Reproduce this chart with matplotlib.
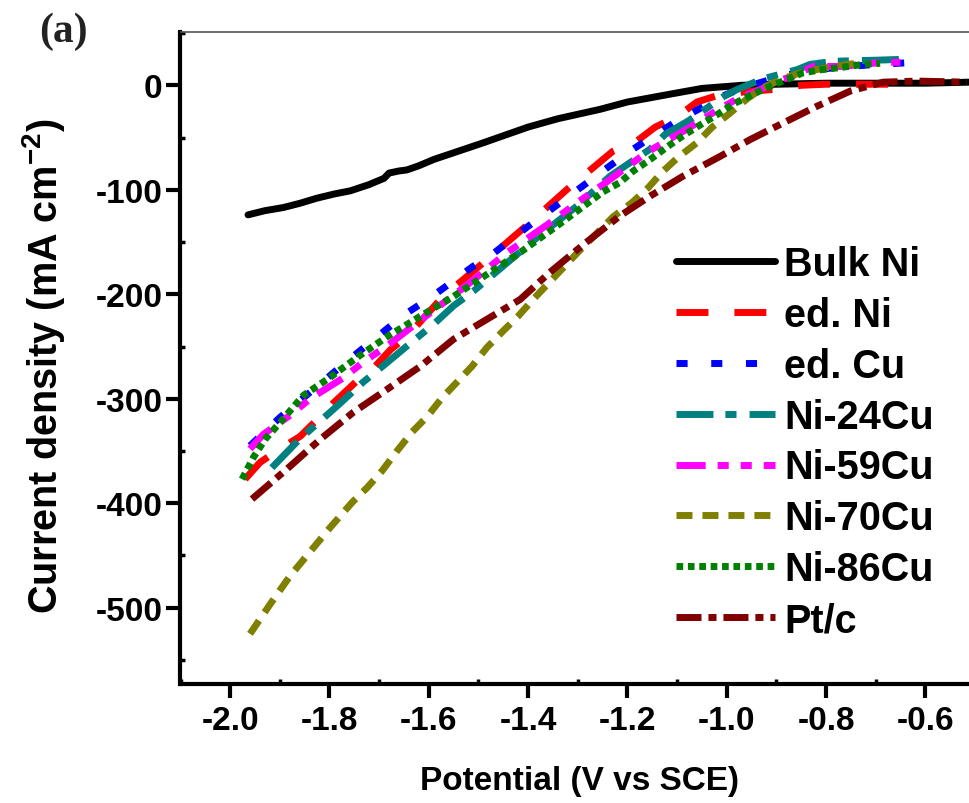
import matplotlib
matplotlib.use('Agg')
import matplotlib.pyplot as plt
from matplotlib.ticker import MultipleLocator

plt.rcParams['font.family'] = ['Liberation Sans', 'DejaVu Sans']
plt.rcParams['font.weight'] = 'bold'
plt.rcParams['mathtext.fontset'] = 'custom'
plt.rcParams['mathtext.rm'] = 'Liberation Sans:bold'
plt.rcParams['mathtext.bf'] = 'Liberation Sans:bold'
plt.rcParams['mathtext.default'] = 'rm'
plt.rcParams['lines.scale_dashes'] = False

# ---------------- data (potential V vs SCE, current density mA cm^-2) ----------------
labels = ["Bulk Ni", "ed. Ni", "ed. Cu", "Ni-24Cu", "Ni-59Cu", "Ni-70Cu", "Ni-86Cu", "Pt/c"]

bulk_ni_x = [-1.964, -1.93, -1.893, -1.86, -1.825, -1.79, -1.758, -1.72, -1.69, -1.68, -1.66,
             -1.644, -1.62, -1.59, -1.54, -1.49, -1.40, -1.34, -1.255, -1.20, -1.12, -1.05,
             -0.97, -0.90, -0.80, -0.70, -0.60, -0.51]
bulk_ni_y = [-124, -120, -117, -113, -108, -104, -101, -95, -89, -84, -82,
             -81, -77, -71, -63, -55, -40, -32, -23, -16, -9, -3,
             0, 1, 2, 2, 2, 3]

ed_ni_x = [-1.97, -1.94, -1.90, -1.859, -1.825, -1.792, -1.738, -1.71, -1.677, -1.643, -1.571,
           -1.483, -1.40, -1.32, -1.229, -1.18, -1.144, -1.098, -1.06, -1.02, -0.96, -0.906,
           -0.85, -0.80, -0.75, -0.70, -0.65]
ed_ni_y = [-377, -361, -348, -336, -320, -304, -280, -270, -253, -240, -202,
           -167, -133, -99, -63, -53, -40, -29.5, -16, -10, -6, -4,
           0, 1, 1, 1, 1]

ed_cu_x = [-1.96, -1.90, -1.86, -1.819, -1.772, -1.728, -1.684, -1.641, -1.593, -1.547, -1.513,
           -1.47, -1.40, -1.32, -1.235, -1.188, -1.156, -1.106, -1.057, -1.007, -0.959, -0.90,
           -0.852, -0.78, -0.70, -0.614]
ed_cu_y = [-345, -318, -302, -286, -267, -250, -233, -217, -202, -186, -174,
           -161, -135, -107, -77, -61, -51, -36, -23, -10, -1, 7,
           13, 17, 20, 22]

ni24_x = [-1.916, -1.863, -1.825, -1.78, -1.732, -1.688, -1.64, -1.591, -1.55, -1.51, -1.45,
          -1.38, -1.30, -1.235, -1.154, -1.124, -1.077, -1.007, -0.979, -0.928, -0.858, -0.832,
          -0.785, -0.70, -0.636]
ni24_y = [-366, -340, -324, -305, -284, -267, -248, -229, -211, -197, -173,
          -145, -115, -87, -61, -47, -34, -11, -4, 6, 15, 20,
          23, 24, 25]

ni59_x = [-1.96, -1.933, -1.88, -1.839, -1.772, -1.732, -1.68, -1.631, -1.517, -1.442, -1.36,
          -1.30, -1.249, -1.16, -1.128, -1.08, -1.03, -0.979, -0.932, -0.898, -0.866, -0.826,
          -0.771, -0.685, -0.65]
ni59_y = [-348, -334, -316, -300, -280, -265, -248, -230, -189, -160, -133,
          -112, -95, -64, -55, -42, -27, -13, -4, 4, 9, 18,
          18, 22, 22]

ni70_x = [-1.96, -1.92, -1.88, -1.84, -1.80, -1.754, -1.724, -1.694, -1.664, -1.634, -1.603,
          -1.573, -1.543, -1.513, -1.483, -1.45, -1.42, -1.39, -1.36, -1.30, -1.229, -1.19,
          -1.158, -1.13, -1.098, -1.06, -1.029, -0.997, -0.959, -0.926, -0.888, -0.852, -0.785,
          -0.725]
ni70_y = [-525, -497, -470, -447, -424, -399, -385, -369, -350, -332, -317,
          -299, -284, -269, -251, -235, -221, -205, -190, -160, -126, -112,
          -98, -83, -69, -55, -40, -28, -13, -2, 6, 12, 18,
          22]

ni86_x = [-1.976, -1.953, -1.93, -1.90, -1.853, -1.80, -1.74, -1.685, -1.617, -1.55, -1.483,
          -1.416, -1.34, -1.249, -1.215, -1.188, -1.154, -1.12, -1.09, -1.057, -1.019, -0.987,
          -0.953, -0.918, -0.882, -0.846, -0.808, -0.771, -0.725, -0.691]
ni86_y = [-377, -356, -339, -323, -297, -280, -259, -241, -221, -202, -181,
          -160, -134, -102, -93, -82, -71, -59, -49, -39, -28, -18,
          -10, -2, 5, 12, 15, 17, 20, 21]

ptc_x = [-1.956, -1.885, -1.819, -1.752, -1.684, -1.617, -1.55, -1.483, -1.416, -1.356, -1.29,
         -1.215, -1.154, -1.088, -1.013, -0.953, -0.886, -0.818, -0.751, -0.685, -0.616, -0.516]
ptc_y = [-396, -367, -339, -313, -291, -269, -243, -224, -205, -179, -153,
         -125, -106, -87, -68, -52, -36, -20, -5.5, 3, 4, 3]

xticks = [-2.0, -1.8, -1.6, -1.4, -1.2, -1.0, -0.8, -0.6]
yticks = [0, -100, -200, -300, -400, -500]

# ---------------- styles ----------------
colors = ['#000000', '#FF0000', '#0000FF', '#008080', '#FF00FF', '#808000', '#008000', '#800000']
dashes = [None, (23, 18.7), (8, 17), (26.6, 8.6, 8, 9.4), (21, 8.6, 8, 8.6, 8, 8.6),
          (11.5, 7.2), (4.8, 3.4), (18, 5, 5.8, 5)]

series = [(bulk_ni_x, bulk_ni_y), (ed_ni_x, ed_ni_y), (ed_cu_x, ed_cu_y), (ni24_x, ni24_y),
          (ni59_x, ni59_y), (ni70_x, ni70_y), (ni86_x, ni86_y), (ptc_x, ptc_y)]

W, H = 970, 804
fig = plt.figure(figsize=(W / 100, H / 100), dpi=100)
ax = fig.add_axes([180.5 / W, (H - 685) / H, (W - 180.5) / W, (685 - 33) / H])

lw = 5.0
for (xs, ys), lab, c, d in zip(series, labels, colors, dashes):
    if d is None:
        ax.plot(xs, ys, color=c, lw=lw, label=lab, solid_capstyle='round')
    else:
        ax.plot(xs, ys, color=c, lw=lw, label=lab, dashes=d)

ax.set_xlim(-2.1, -0.51)
ax.set_ylim(-573, 51)
ax.set_xticks(xticks)
ax.set_xticklabels([f"{v:.1f}" for v in xticks])
ax.set_yticks(yticks)
ax.set_yticklabels([str(v) for v in yticks])
ax.xaxis.set_minor_locator(MultipleLocator(0.1))
ax.yaxis.set_minor_locator(MultipleLocator(50))

ax.tick_params(axis='both', which='major', direction='out', length=10, width=3,
               labelsize=24, colors='black')
ax.tick_params(axis='x', which='major', pad=5)
ax.tick_params(axis='y', which='major', pad=3)
ax.tick_params(axis='both', which='minor', direction='in', length=3.5, width=2.5)
ax.tick_params(top=False, right=False, which='both')

for s in ['left', 'bottom']:
    ax.spines[s].set_linewidth(3)
    ax.spines[s].set_color('black')
ax.spines['top'].set_linewidth(1.2)
ax.spines['top'].set_color('#555555')
ax.spines['right'].set_visible(False)

for lab in ax.get_xticklabels() + ax.get_yticklabels():
    lab.set_fontweight('bold')

fig.text(580 / W, 1 - 790 / H, "Potential (V vs SCE)", ha='center', va='baseline',
         fontsize=24, fontweight='bold')
fig.text(44 / W, 1 - 366 / H, "Current density (mA cm$^{-2}$)", ha='center', va='center',
         rotation=90, fontsize=28.5, fontweight='bold')
fig.text(39 / W, 1 - 42 / H, "(a)", ha='left', va='baseline', fontsize=30,
         fontweight='bold', family=['Liberation Serif', 'DejaVu Serif'], color='#222222')

leg = ax.legend(loc='upper left', bbox_to_anchor=(676 / W, 1 - 246 / H),
                bbox_transform=fig.transFigure, frameon=False, fontsize=28.5,
                handlelength=2.5, handletextpad=0.24, labelspacing=0.325,
                borderpad=0, borderaxespad=0)
for t in leg.get_texts():
    t.set_fontweight('bold')

fig.savefig('out.png', dpi=100)
